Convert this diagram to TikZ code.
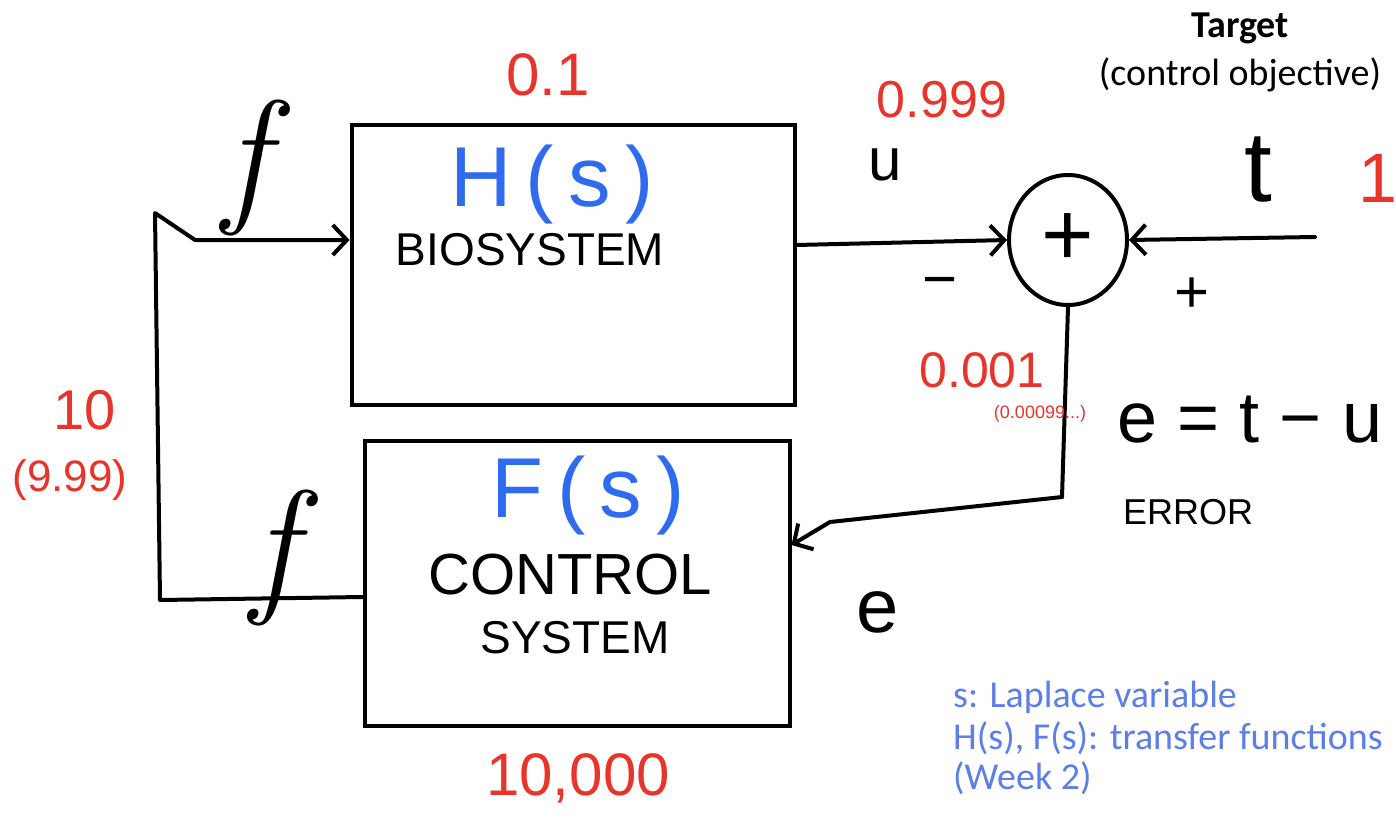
\documentclass[tikz,border=0pt]{standalone}
\usepackage{fontspec}
\newfontfamily\calfont{Carlito}
\newfontfamily\hand{Liberation Sans}
\usetikzlibrary{arrows.meta,shapes.geometric}
\definecolor{hred}{HTML}{E8352B}
\definecolor{hblue}{HTML}{2F6BEF}
\definecolor{tblue}{HTML}{5B7FE6}
\newcommand{\fs}[1]{\fontsize{#1}{#1}\selectfont}
\begin{document}
\begin{tikzpicture}[x=1pt,y=-1pt,
  ink/.style={line width=4pt, line cap=round, line join=round},
  box/.style={draw, line width=4pt, inner sep=0pt},
  arr/.style={ink, -{Straight Barb[length=14pt,width=30pt,line width=4pt]}},
  hw/.style={font=\hand\fs{#1}, inner sep=0pt},
  red/.style={hw=#1, text=hred},
  blu/.style={hw=#1, text=hblue},
  typed/.style={font=\calfont\fs{38}, inner sep=0pt, anchor=west, text=tblue}]
\useasboundingbox (0,0) rectangle (1396,824);
% boxes
\node[box, minimum width=443pt, minimum height=280pt] (bio) at (573,265) {};
\node[box, minimum width=425pt, minimum height=285pt] (ctrl) at (577,583) {};
\node[draw, ellipse, line width=4pt, minimum width=118pt, minimum height=130pt, inner sep=0pt] (sum) at (1068,240) {};
\node[hw=90] (plus) at (sum.center) {+};
% box texts
\node[blu=85] (Hs) at (552,185) {H\,(\,s\,)};
\node[hw=46] (biot) at (530,250) {BIOSYSTEM};
\node[red=60] (v01) at (548,75) {0.1};
\node[blu=85] (Fs) at (588,495) {F\,(\,s\,)};
\node[hw=58] (ctt1) at (570,575) {CONTROL};
\node[hw=46] (ctt2) at (575,638) {SYSTEM};
\node[red=60] (v10k) at (578,778) {10,000};
% connectors
\coordinate (tin) at (1315,237);
\coordinate (ec) at (1062,497);
\coordinate (ebend) at (830,522);
\coordinate (fb1) at (160,600);
\coordinate (fb2) at (155,213);
\coordinate (fb3) at (195,240);
\draw[arr] ([yshift=20pt]bio.east) -- (sum.west);
\draw[arr] (tin) -- (sum.east);
\draw[ink] (sum.south) -- (ec);
\draw[arr] (ec) -- (ebend) -- ([yshift=38pt]ctrl.east);
\draw[arr] ([yshift=-14pt]ctrl.west) -- (fb1) -- (fb2) -- (fb3) -- ([yshift=25pt]bio.west);
% labels
\node[hw=60] (u) at (885,165) {u};
\node[red=52] (v999) at (942,100) {0.999};
\node[hw=60] (minus) at (940,288) {−};
\node[hw=60] (pl2) at (1192,295) {+};
\node[hw=100] (t) at (1258,170) {t};
\node[red=70] (one) at (1378,178) {1};
\node[font=\calfont\bfseries\fs{38}, inner sep=0pt] (target) at (1240,28) {Target};
\node[font=\calfont\fs{38}, inner sep=0pt] (obj) at (1240,75) {(control objective)};
\node[red=50] (v001) at (982,370) {0.001};
\node[red=18] (v0009) at (1040,414) {(0.00099...)};
\node[hw=72] (eq) at (1250,420) {e = t − u};
\node[hw=36] (err) at (1188,512) {ERROR};
\node[hw=76] (e) at (878,612) {e};
\node[red=56] (v10) at (85,410) {10};
\node[red=44] (v999b) at (70,480) {(9.99)};
\node[font=\itshape\fs{150}, inner sep=0pt] (f1) at (246,168) {f};
\node[font=\itshape\fs{150}, inner sep=0pt] (f2) at (274,558) {f};
% typed notes
\node[typed] (n1) at (953,697) {s: Laplace variable};
\node[typed] (n2) at (953,738) {H(s), F(s): transfer functions};
\node[typed] (n3) at (953,778) {(Week 2)};
\end{tikzpicture}
\end{document}
